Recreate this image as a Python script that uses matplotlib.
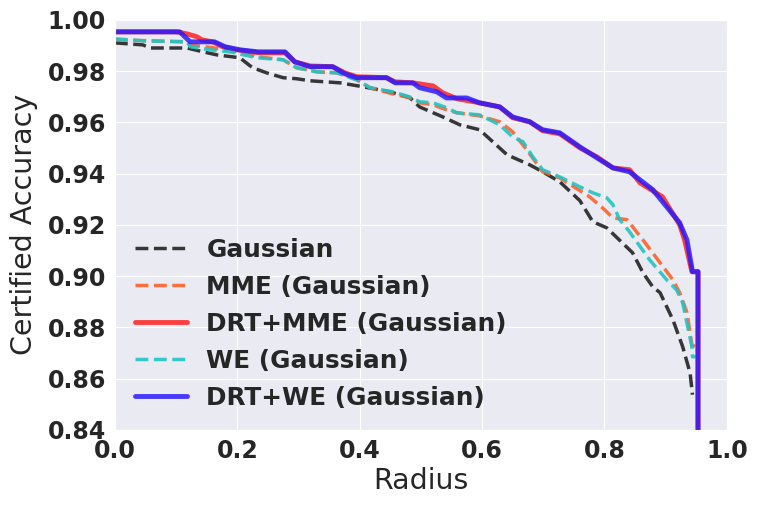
import matplotlib
matplotlib.use('Agg')
import matplotlib.pyplot as plt
import seaborn as sns

# values (radius, certified accuracy)
r_gauss = [0.0, 0.046, 0.057, 0.118, 0.144, 0.167, 0.204, 0.225, 0.248, 0.275, 0.297, 0.319,
           0.368, 0.405, 0.449, 0.482, 0.498, 0.536, 0.564, 0.596, 0.641, 0.678, 0.699, 0.727,
           0.760, 0.781, 0.804, 0.846, 0.863, 0.879, 0.891, 0.912, 0.928, 0.940, 0.944]
a_gauss = [0.9910, 0.9902, 0.9890, 0.9890, 0.9875, 0.9863, 0.9852, 0.9813, 0.9793, 0.9774, 0.9770, 0.9762,
           0.9754, 0.9739, 0.9719, 0.9696, 0.9660, 0.9621, 0.9590, 0.9571, 0.9473, 0.9434, 0.9407, 0.9368,
           0.9294, 0.9212, 0.9188, 0.9091, 0.9013, 0.8958, 0.8935, 0.8829, 0.8724, 0.8622, 0.8537]

r_mme = [0.0, 0.118, 0.123, 0.160, 0.199, 0.232, 0.275, 0.297, 0.330, 0.363, 0.395, 0.417,
         0.454, 0.482, 0.498, 0.520, 0.542, 0.559, 0.596, 0.629, 0.650, 0.673, 0.699, 0.727,
         0.776, 0.797, 0.814, 0.837, 0.863, 0.891, 0.912, 0.923, 0.935, 0.943, 0.948]
a_mme = [0.9922, 0.9914, 0.9902, 0.9891, 0.9875, 0.9856, 0.9844, 0.9813, 0.9797, 0.9793, 0.9766, 0.9735,
         0.9711, 0.9696, 0.9676, 0.9668, 0.9649, 0.9637, 0.9625, 0.9602, 0.9563, 0.9493, 0.9407, 0.9383,
         0.9309, 0.9266, 0.9227, 0.9220, 0.9141, 0.9052, 0.8985, 0.8935, 0.8857, 0.8732, 0.8724]

r_drt_mme = [0.0, 0.101, 0.118, 0.134, 0.142, 0.160, 0.176, 0.199, 0.237, 0.278, 0.294, 0.319,
             0.356, 0.376, 0.395, 0.444, 0.458, 0.487, 0.520, 0.536, 0.559, 0.596, 0.629, 0.650,
             0.678, 0.699, 0.727, 0.760, 0.788, 0.814, 0.841, 0.858, 0.895, 0.923, 0.931, 0.943,
             0.953, 0.953]
a_drt_mme = [0.9953, 0.9953, 0.9945, 0.9934, 0.9922, 0.9914, 0.9895, 0.9883, 0.9871, 0.9871, 0.9836, 0.9820,
             0.9817, 0.9793, 0.9778, 0.9774, 0.9758, 0.9754, 0.9742, 0.9715, 0.9692, 0.9676, 0.9660, 0.9618,
             0.9602, 0.9567, 0.9555, 0.9500, 0.9465, 0.9422, 0.9415, 0.9364, 0.9309, 0.9200, 0.9141, 0.9017,
             0.9017, 0.8300]

r_we = [0.0, 0.046, 0.118, 0.123, 0.155, 0.188, 0.232, 0.275, 0.297, 0.330, 0.363, 0.395,
        0.417, 0.454, 0.482, 0.498, 0.520, 0.542, 0.559, 0.596, 0.629, 0.650, 0.667, 0.683,
        0.699, 0.727, 0.760, 0.781, 0.804, 0.814, 0.825, 0.841, 0.874, 0.902, 0.918, 0.928,
        0.943, 0.944, 0.951]
a_we = [0.9926, 0.9918, 0.9914, 0.9895, 0.9883, 0.9875, 0.9852, 0.9844, 0.9813, 0.9797, 0.9793, 0.9766,
        0.9735, 0.9719, 0.9699, 0.9680, 0.9676, 0.9657, 0.9637, 0.9629, 0.9590, 0.9543, 0.9524, 0.9465,
        0.9415, 0.9387, 0.9348, 0.9325, 0.9305, 0.9278, 0.9220, 0.9173, 0.9063, 0.8985, 0.8946, 0.8896,
        0.8724, 0.8685, 0.8685]

r_drt_we = [0.0, 0.106, 0.123, 0.163, 0.180, 0.204, 0.234, 0.278, 0.294, 0.319, 0.356, 0.376,
            0.395, 0.444, 0.458, 0.487, 0.498, 0.526, 0.542, 0.575, 0.596, 0.629, 0.650, 0.678,
            0.699, 0.727, 0.760, 0.788, 0.814, 0.841, 0.879, 0.923, 0.935, 0.944, 0.953, 0.953]
a_drt_we = [0.9953, 0.9953, 0.9914, 0.9914, 0.9895, 0.9883, 0.9875, 0.9875, 0.9836, 0.9817, 0.9817, 0.9789,
            0.9774, 0.9774, 0.9754, 0.9754, 0.9735, 0.9719, 0.9695, 0.9695, 0.9676, 0.9660, 0.9621, 0.9602,
            0.9571, 0.9559, 0.9504, 0.9461, 0.9422, 0.9407, 0.9337, 0.9208, 0.9141, 0.9017, 0.9017, 0.8300]

labels = ['Gaussian', 'MME (Gaussian)', 'DRT+MME (Gaussian)', 'WE (Gaussian)', 'DRT+WE (Gaussian)']

sns.set_style('darkgrid')
plt.rcParams['font.family'] = ['DejaVu Sans']

fig = plt.figure(figsize=(7.61, 5.08), dpi=100)
ax = fig.add_axes([0.151, 0.154, 0.804, 0.807])

ax.plot(r_gauss, a_gauss, '--', color='#222222', lw=2.5, alpha=0.9, label=labels[0])
ax.plot(r_mme, a_mme, '--', color='#ff5a1f', lw=2.5, alpha=0.85, label=labels[1])
ax.plot(r_drt_mme, a_drt_mme, '-', color='#ff2222', lw=3.5, alpha=0.85, label=labels[2])
ax.plot(r_we, a_we, '--', color='#22c4c4', lw=2.5, alpha=0.9, label=labels[3])
ax.plot(r_drt_we, a_drt_we, '-', color='#2a1aff', lw=3.5, alpha=0.85, label=labels[4])

ax.set_xlim(0, 1.0)
ax.set_ylim(0.84, 1.0)
ax.set_xticks([0.0, 0.2, 0.4, 0.6, 0.8, 1.0])
ax.set_yticks([0.84, 0.86, 0.88, 0.90, 0.92, 0.94, 0.96, 0.98, 1.00])
ax.set_yticklabels(['%.2f' % v for v in ax.get_yticks()])
for t in ax.get_xticklabels() + ax.get_yticklabels():
    t.set_fontsize(17)
    t.set_fontweight('bold')
ax.tick_params(pad=3)
ax.set_xlabel('Radius', fontsize=20.5, labelpad=3)
ax.set_ylabel('Certified Accuracy', fontsize=20.5, labelpad=7)

leg = ax.legend(loc='lower left', frameon=False, prop={'size': 17.8, 'weight': 'bold'},
                handlelength=2.1, labelspacing=0.53, borderaxespad=0.4)

fig.savefig('out.png', dpi=100)
